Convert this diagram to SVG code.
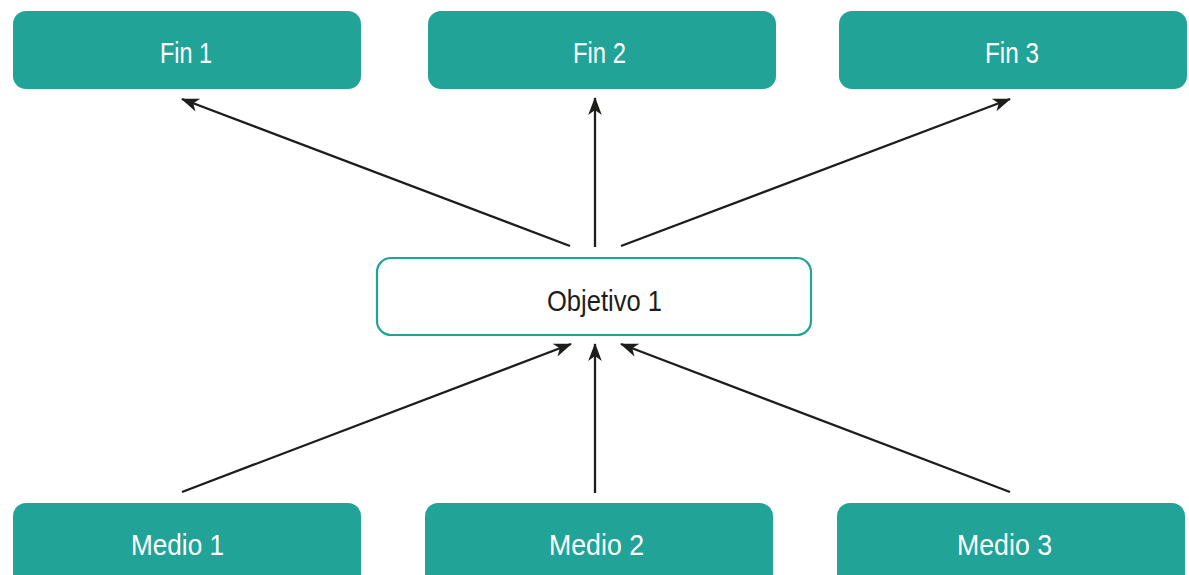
<svg xmlns="http://www.w3.org/2000/svg" width="1189" height="575" viewBox="0 0 1189 575">
  <defs>
    <marker id="head" markerUnits="userSpaceOnUse" markerWidth="20" markerHeight="16" refX="0" refY="0" orient="auto" overflow="visible">
      <path d="M1,0 L-17,-6.8 L-12,0 L-17,6.8 Z" fill="#1d1d1b"/>
    </marker>
  </defs>
  <style>
    .box { fill: #21a398; }
    .goal { fill: #ffffff; stroke: #21a398; stroke-width: 2.2; }
    .lbl { font-family: "Liberation Sans", "DejaVu Sans Condensed", sans-serif; font-size: 29px; text-anchor: middle; }
    .light { fill: #ffffff; }
    .dark { fill: #1d1d1b; }
    .link { stroke: #1d1d1b; stroke-width: 2.3; fill: none; marker-end: url(#head); }
  </style>
  <rect width="1189" height="575" fill="#ffffff"/>

  <!-- ends -->
  <g id="fin1">
    <rect class="box" x="13" y="11" width="348" height="78" rx="13"/>
    <text class="lbl light" x="186" y="63" textLength="52" lengthAdjust="spacingAndGlyphs">Fin 1</text>
  </g>
  <g id="fin2">
    <rect class="box" x="428" y="11" width="348" height="78" rx="13"/>
    <text class="lbl light" x="599.5" y="63" textLength="53" lengthAdjust="spacingAndGlyphs">Fin 2</text>
  </g>
  <g id="fin3">
    <rect class="box" x="839" y="11" width="348" height="78" rx="13"/>
    <text class="lbl light" x="1012" y="63" textLength="54" lengthAdjust="spacingAndGlyphs">Fin 3</text>
  </g>

  <!-- objective -->
  <g id="objetivo1">
    <rect class="goal" x="377" y="258" width="434" height="77" rx="14"/>
    <text class="lbl dark" x="604.5" y="311" textLength="115" lengthAdjust="spacingAndGlyphs">Objetivo 1</text>
  </g>

  <!-- means -->
  <g id="medio1">
    <rect class="box" x="13" y="503" width="348" height="90" rx="13"/>
    <text class="lbl light" x="177.5" y="555" textLength="93" lengthAdjust="spacingAndGlyphs">Medio 1</text>
  </g>
  <g id="medio2">
    <rect class="box" x="425" y="503" width="348" height="90" rx="13"/>
    <text class="lbl light" x="596.5" y="555" textLength="95" lengthAdjust="spacingAndGlyphs">Medio 2</text>
  </g>
  <g id="medio3">
    <rect class="box" x="837" y="503" width="348" height="90" rx="13"/>
    <text class="lbl light" x="1004.5" y="555" textLength="95" lengthAdjust="spacingAndGlyphs">Medio 3</text>
  </g>

  <!-- connectors -->
  <g id="connectors">
    <line class="link" x1="570" y1="246" x2="182" y2="99"/>
    <line class="link" x1="595" y1="247" x2="595" y2="98"/>
    <line class="link" x1="621" y1="246" x2="1010" y2="99"/>
    <line class="link" x1="182" y1="492" x2="571" y2="344"/>
    <line class="link" x1="595" y1="493" x2="595" y2="344"/>
    <line class="link" x1="1010" y1="492" x2="621" y2="344"/>
  </g>
</svg>
